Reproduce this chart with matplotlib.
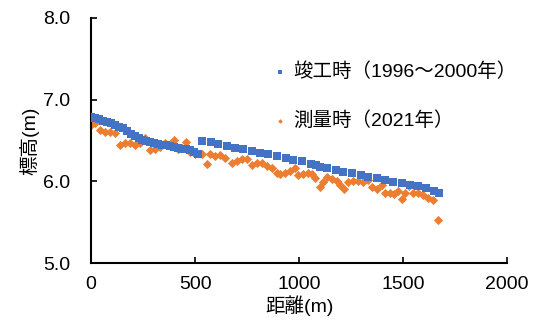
import numpy as np
import matplotlib
matplotlib.use("Agg")
from matplotlib import pyplot as plt

plt.rcParams['font.family'] = ['Liberation Sans', 'Noto Sans CJK JP', 'DejaVu Sans']

# 竣工時 (1996-2000)
x_old = [0, 19, 38, 57, 76, 95, 114, 133, 152, 171, 190, 209, 228, 247, 266, 285,
         304, 323, 342, 361, 380, 399, 418, 437, 456, 475, 494, 513,
         535, 575, 610, 655, 690, 730, 775, 810, 850, 895, 935, 970, 1015, 1055,
         1080, 1100, 1135, 1175, 1210, 1255, 1295, 1330, 1375, 1415, 1450, 1495,
         1535, 1570, 1610, 1650, 1670]
y_old = [6.79, 6.77, 6.76, 6.74, 6.73, 6.71, 6.69, 6.67, 6.65, 6.62, 6.58, 6.55,
         6.53, 6.51, 6.49, 6.48, 6.47, 6.46, 6.45, 6.44, 6.43, 6.42, 6.41, 6.40,
         6.39, 6.38, 6.36, 6.34,
         6.49, 6.48, 6.46, 6.43, 6.41, 6.40, 6.37, 6.35, 6.33, 6.31, 6.29, 6.26,
         6.25, 6.21, 6.20, 6.18, 6.16, 6.14, 6.11, 6.10, 6.08, 6.05, 6.04, 6.02,
         5.99, 5.98, 5.95, 5.94, 5.92, 5.88, 5.86]

# 測量時 (2021)
x_new = [0, 19, 43, 67, 91, 115, 139, 163, 187, 212, 236, 260, 284, 308, 332, 356,
         380, 399, 418, 437, 457, 476, 500, 534, 558, 572, 596, 620, 644, 678, 702,
         726, 750, 774, 798, 822, 846, 870, 894, 909, 933, 957, 981, 995, 1019,
         1043, 1062, 1077, 1101, 1115, 1135, 1159, 1183, 1197, 1216, 1236, 1260,
         1284, 1308, 1332, 1351, 1375, 1399, 1413, 1437, 1457, 1476, 1495, 1510,
         1529, 1548, 1572, 1596, 1620, 1644, 1668]
y_new = [6.69, 6.71, 6.63, 6.60, 6.60, 6.59, 6.44, 6.47, 6.47, 6.44, 6.47, 6.53,
         6.38, 6.40, 6.42, 6.47, 6.45, 6.50, 6.40, 6.41, 6.48, 6.36, 6.34, 6.34,
         6.21, 6.34, 6.31, 6.32, 6.28, 6.22, 6.25, 6.27, 6.27, 6.20, 6.22, 6.22,
         6.19, 6.16, 6.10, 6.09, 6.10, 6.13, 6.16, 6.08, 6.09, 6.10, 6.09, 6.04,
         5.93, 5.99, 6.05, 6.03, 6.00, 5.95, 5.91, 5.99, 6.00, 6.00, 5.99, 6.02,
         5.93, 5.91, 5.95, 5.86, 5.86, 5.84, 5.88, 5.78, 5.86, 5.94, 5.86, 5.86,
         5.83, 5.80, 5.77, 5.53]

jp = ['Liberation Sans', 'Noto Sans CJK JP']

fig = plt.figure(figsize=(5.39, 3.2), dpi=100)
ax = fig.add_axes([0.169, 0.178, 0.772, 0.766])

ax.scatter(x_new, y_new, marker='D', s=22, color='#ED7D31', linewidths=0,
           label='測量時（2021年）', zorder=2)
ax.scatter(x_old, y_old, marker='s', s=30, color='#4472C4', linewidths=0,
           label='竣工時（1996～2000年）', zorder=3)

ax.set_xlim(0, 2000)
ax.set_ylim(5.0, 8.0)
ax.set_xticks([0, 500, 1000, 1500, 2000])
ax.set_yticks([5.0, 6.0, 7.0, 8.0])
ax.set_yticklabels(['5.0', '6.0', '7.0', '8.0'])
for s in ['top', 'right']:
    ax.spines[s].set_visible(False)
for s in ['left', 'bottom']:
    ax.spines[s].set_linewidth(1.5)
ax.tick_params(direction='in', length=4, width=1.2, labelsize=14)
ax.tick_params(axis='y', pad=15)
ax.tick_params(axis='x', pad=9)

ax.set_xlabel('距離(m)', fontsize=14, labelpad=2, family=jp)
ax.set_ylabel('標高(m)', fontsize=14, labelpad=3, family=jp)

h, l = ax.get_legend_handles_labels()
leg = ax.legend(h[::-1], l[::-1], loc='upper right', bbox_to_anchor=(1.065, 0.89),
                frameon=False, markerscale=0.5, labelspacing=1.55,
                handletextpad=0.2, handlelength=1.0,
                prop={'family': jp, 'size': 14})

fig.savefig('out.png', dpi=100)
